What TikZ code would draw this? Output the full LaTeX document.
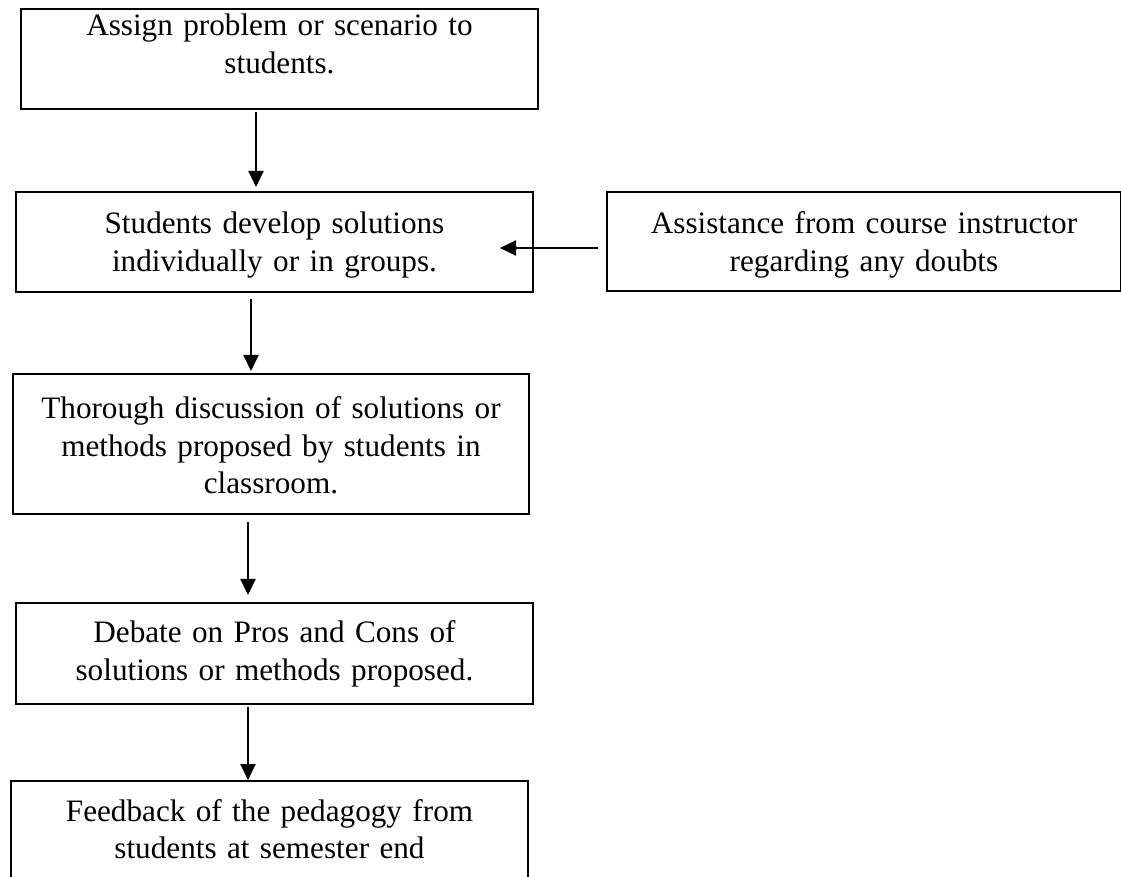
\documentclass[tikz,border=0pt]{standalone}
\usepackage{fontspec}
\setmainfont{Liberation Serif}
\usetikzlibrary{arrows.meta}
\begin{document}
\begin{tikzpicture}[x=0.5pt,y=-0.5pt,line width=1pt,
  >={Triangle[length=8pt,width=7.5pt]},
  stage/.style={draw,inner sep=0pt,anchor=north west,align=center,
    font=\fontsize{15.6}{18.7}\selectfont}]
\useasboundingbox (0,0) rectangle (1121,877);
\clip (0,0) rectangle (1121,877);
\node[stage,text width=258.5pt,text height=13.5pt,text depth=36.5pt] (assign) at (20,8) {Assign problem or scenario to\\students.};
\node[stage,text width=258.5pt,text height=21pt,text depth=29pt] (develop) at (15,191) {Students develop solutions\\individually or in groups.};
\node[stage,text width=257pt,text height=21pt,text depth=28.5pt] (assist) at (606,191) {Assistance from course instructor\\regarding any doubts};
\node[stage,text width=258pt,text height=22.5pt,text depth=47.5pt] (discuss) at (12,373) {Thorough discussion of solutions or\\methods proposed by students in\\classroom.};
\node[stage,text width=258.5pt,text height=20pt,text depth=30.5pt] (debate) at (15,602) {Debate on Pros and Cons of\\solutions or methods proposed.};
\node[stage,text width=258.5pt,text height=20pt,text depth=30pt] (feedback) at (10,780) {Feedback of the pedagogy from\\students at semester end};
% arrow positions
\coordinate (a1) at (256,0);
\coordinate (a2) at (251,0);
\coordinate (a3) at (248,0);
\coordinate (a4) at (248,0);
\coordinate (h1) at (0,248);
\coordinate (tip) at (500,248);
\draw[->,shorten <=1pt,shorten >=2pt] (assign.south -| a1) -- (develop.north -| a1);
\draw[->,shorten <=3pt,shorten >=1pt] (develop.south -| a2) -- (discuss.north -| a2);
\draw[->,shorten <=3.5pt,shorten >=3.5pt] (discuss.south -| a3) -- (debate.north -| a3);
\draw[->,shorten <=1pt] (debate.south -| a4) -- (feedback.north -| a4);
\draw[->,shorten <=4pt] (assist.west |- h1) -- (tip);
\end{tikzpicture}
\end{document}
